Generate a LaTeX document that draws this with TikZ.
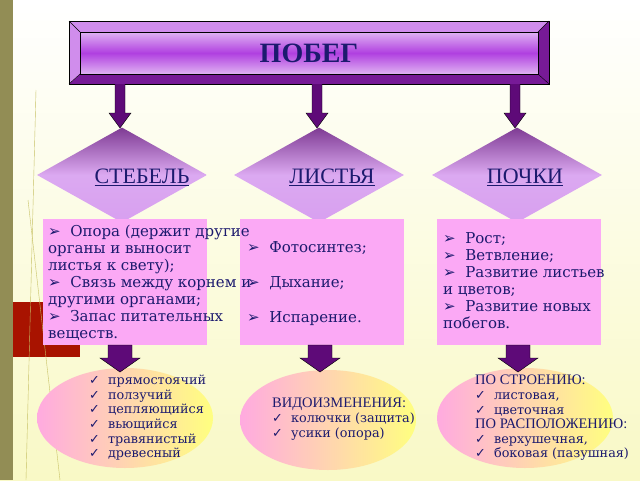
\documentclass[tikz,border=0pt]{standalone}
\usepackage{fontspec}
\setmainfont{DejaVu Serif}
\newfontfamily\headfont{Liberation Serif}
\newfontfamily\symfont{DejaVu Sans}
\usetikzlibrary{shapes.geometric}
\definecolor{navy}{HTML}{1C1A6E}
\definecolor{plum}{HTML}{5E0A78}
\definecolor{boxpink}{HTML}{FBA9F5}
\definecolor{violet}{HTML}{B040E0}
\newcommand{\tip}{{\symfont\char"27A2}\ \ }
\newcommand{\tick}{{\symfont\char"2713}\ \ }
\tikzset{
  rhomb/.style={diamond, aspect=1.8, minimum width=170pt, minimum height=95pt, inner sep=0pt,
    top color=plum!80, bottom color=violet!50, middle color=violet!45, draw=none},
  infobox/.style={fill=boxpink, minimum width=164pt, minimum height=126pt, anchor=north west},
  listtext/.style={anchor=north west, align=left, text=navy, inner sep=0pt, font=\fontsize{15}{17}\selectfont},
  ovaltext/.style={anchor=north west, align=left, text=navy, inner sep=0pt, font=\fontsize{12.8}{14.6}\selectfont},
  oval/.style={ellipse, minimum width=176pt, minimum height=100pt, left color=magenta!30!pink!70, right color=yellow!50},
}
\begin{document}
\begin{tikzpicture}[x=1pt,y=-1pt]
    \useasboundingbox (0,0) rectangle (640,480);
    % background
    \shade[top color=white, bottom color=olive!25!yellow!20!white] (0,0) rectangle (640,480);
    \fill[olive!60!black!70] (0,0) rectangle (13,480);
    \fill[red!60!black!85!orange] (13,302) rectangle (80,357);
    \draw[olive!50, thin] (36,90) -- (26,480);
    \draw[olive!50, thin] (28,200) -- (60,480);

    % title
    \fill[plum!70!violet] (69,21) rectangle (549,84);
    \fill[violet!60] (69,21) -- (549,21) -- (538,32) -- (80,32) -- (80,74) -- (69,84) -- cycle;
    \draw (69,21) rectangle (549,84);
    \shade[top color=violet!40, bottom color=violet!40, middle color=violet] (80,32) rectangle (538,74);
    \draw (80,32) rectangle (538,74);
    \draw (69,21) -- (80,32) (549,21) -- (538,32) (69,84) -- (80,74) (549,84) -- (538,74);
    \node[text=navy, font=\headfont\fontsize{28}{28}\selectfont\bfseries] (title) at (309,53) {ПОБЕГ};

    % branches
    \foreach \x/\name/\word/\dx in {120/stem/СТЕБЕЛЬ/22, 317/leaf/ЛИСТЬЯ/15, 515/bud/ПОЧКИ/10} {
      \filldraw[fill=plum] (\x-5,84) -- (\x-5,113) -- (\x-11,113) -- (\x,128) -- (\x+11,113) -- (\x+5,113) -- (\x+5,84);
      \node[rhomb] (\name) at (\x+2,175) {};
      \node[text=navy, font=\headfont\fontsize{22}{22}\selectfont] at (\x+\dx,177) {\underline{\word}};
    }

    % boxes
    \node[infobox] (stembox) at (43,219) {};
    \node[infobox] (leafbox) at (240,219) {};
    \node[infobox] (budbox) at (437,219) {};
    \node[listtext] at (48,225) {\tip Опора (держит другие\\органы и выносит\\листья к свету);\\\tip Связь между корнем и\\другими органами;\\\tip Запас питательных\\веществ.};
    \node[listtext] at (247,241) {\tip Фотосинтез;\\[18pt]\tip Дыхание;\\[18pt]\tip Испарение.};
    \node[listtext] at (443,232) {\tip Рост;\\\tip Ветвление;\\\tip Развитие листьев\\и цветов;\\\tip Развитие новых\\побегов.};

    % lower
    \node[oval] (stemoval) at (125,418) {};
    \node[oval] (leafoval) at (328,420) {};
    \node[oval] (budoval) at (525,418) {};
    \foreach \x in {120,320,518}
      \filldraw[fill=plum] (\x-12,345) -- (\x-12,358) -- (\x-20,358) -- (\x,372) -- (\x+20,358) -- (\x+12,358) -- (\x+12,345) -- cycle;
    \node[ovaltext] at (89,375) {\tick прямостоячий\\\tick ползучий\\\tick цепляющийся\\\tick вьющийся\\\tick травянистый\\\tick древесный};
    \node[ovaltext] at (272,398) {{\headfont\fontsize{14.5}{14.6}\selectfont ВИДОИЗМЕНЕНИЯ:}\\\tick колючки (защита)\\\tick усики (опора)};
    \node[ovaltext] at (475,375) {{\headfont\fontsize{14.5}{14.6}\selectfont ПО СТРОЕНИЮ:}\\\tick листовая,\\\tick цветочная\\{\headfont\fontsize{14.5}{14.6}\selectfont ПО РАСПОЛОЖЕНИЮ:}\\\tick верхушечная,\\\tick боковая (пазушная)};
\end{tikzpicture}
\end{document}
